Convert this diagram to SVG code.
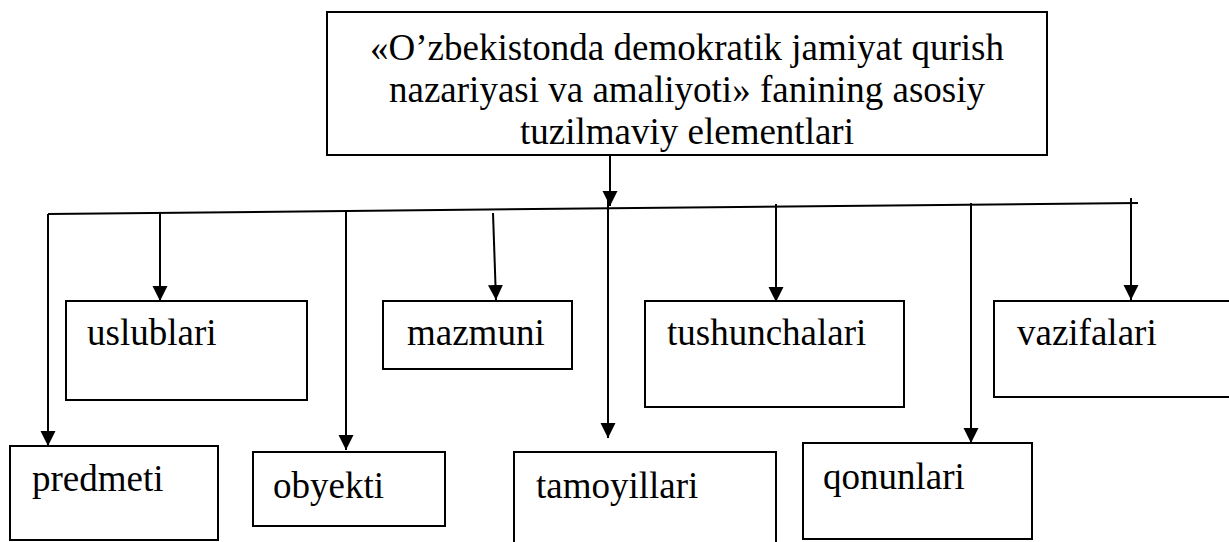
<svg xmlns="http://www.w3.org/2000/svg" width="1229" height="542" viewBox="0 0 1229 542">
<style>
  .box { fill: #ffffff; stroke: #000000; stroke-width: 2; }
  .lbl { font-family: "Liberation Serif", "Times New Roman", serif; font-size: 37px; fill: #000000; }
  .title { font-family: "Liberation Serif", "Times New Roman", serif; font-size: 37px; fill: #000000; text-anchor: middle; }
  .con { fill: none; stroke: #000000; stroke-width: 2; }
  .arr { fill: none; stroke: #000000; stroke-width: 2; marker-end: url(#ah); }
</style>
<defs>
  <marker id="ah" markerUnits="userSpaceOnUse" markerWidth="16" markerHeight="16" viewBox="0 0 16 16" refX="15" refY="8" orient="auto">
    <path d="M0,0.5 L15,8 L0,15.5 Z" fill="#000000"/>
  </marker>
</defs>
<rect width="1229" height="542" fill="#ffffff"/>

<g id="title">
  <rect class="box" x="327" y="12" width="720" height="143"/>
  <text class="title" x="687" y="60">«O’zbekistonda demokratik jamiyat qurish</text>
  <text class="title" x="687" y="102">nazariyasi va amaliyoti» fanining asosiy</text>
  <text class="title" x="687" y="144">tuzilmaviy elementlari</text>
</g>

<g id="uslublari">
  <rect class="box" x="66" y="301" width="241" height="99"/>
  <text class="lbl" x="87" y="345">uslublari</text>
</g>
<g id="mazmuni">
  <rect class="box" x="383" y="301" width="189" height="68"/>
  <text class="lbl" x="407" y="345">mazmuni</text>
</g>
<g id="tushunchalari">
  <rect class="box" x="645" y="301" width="259" height="106"/>
  <text class="lbl" x="667" y="345">tushunchalari</text>
</g>
<g id="vazifalari">
  <rect class="box" x="994" y="301" width="250" height="96"/>
  <text class="lbl" x="1017" y="345">vazifalari</text>
</g>
<g id="predmeti">
  <rect class="box" x="10" y="446" width="208" height="94"/>
  <text class="lbl" x="32" y="491">predmeti</text>
</g>
<g id="obyekti">
  <rect class="box" x="253" y="452" width="192" height="74"/>
  <text class="lbl" x="273" y="498">obyekti</text>
</g>
<g id="tamoyillari">
  <rect class="box" x="514" y="452" width="262" height="100"/>
  <text class="lbl" x="536" y="498">tamoyillari</text>
</g>
<g id="qonunlari">
  <rect class="box" x="803" y="443" width="229" height="96"/>
  <text class="lbl" x="823" y="489">qonunlari</text>
</g>

<g id="connectors">
  <line class="con" x1="48" y1="214" x2="1138" y2="203"/>
  <line class="arr" x1="610" y1="155" x2="610" y2="206"/>
  <line class="arr" x1="48" y1="214" x2="48" y2="446"/>
  <line class="arr" x1="160" y1="213" x2="160" y2="301"/>
  <line class="arr" x1="346" y1="211" x2="346" y2="450"/>
  <line class="arr" x1="493" y1="213" x2="496" y2="300"/>
  <line class="arr" x1="608" y1="200" x2="608" y2="438"/>
  <line class="arr" x1="776" y1="204" x2="776" y2="302"/>
  <line class="arr" x1="971" y1="203" x2="971" y2="443"/>
  <line class="arr" x1="1131" y1="198" x2="1131" y2="300"/>
</g>
</svg>
